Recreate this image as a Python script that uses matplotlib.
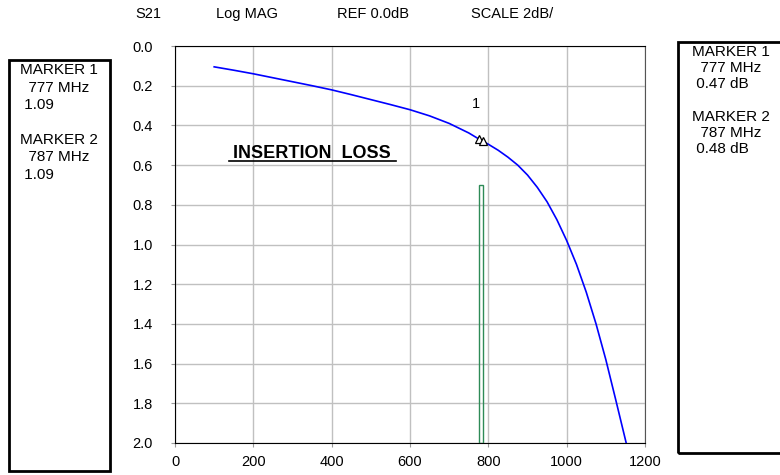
import matplotlib.pyplot as plt
from matplotlib.patches import Rectangle

plt.rcParams['font.family'] = ['Liberation Sans', 'DejaVu Sans']

# S21 insertion loss curve (MHz, dB)
freq = [100, 150, 200, 250, 300, 350, 400, 450, 500, 550, 600, 650, 700, 750, 777, 800,
        825, 850, 875, 900, 925, 950, 975, 1000, 1025, 1050, 1075, 1100, 1125, 1152]
loss = [0.105, 0.122, 0.14, 0.16, 0.18, 0.2, 0.221, 0.245, 0.27, 0.295, 0.321, 0.352, 0.39, 0.438, 0.47, 0.495,
        0.525, 0.56, 0.6, 0.65, 0.712, 0.785, 0.875, 0.98, 1.1, 1.24, 1.4, 1.58, 1.78, 2.0]

marker_f = [777, 787]
marker_db = [0.47, 0.48]
band_top = 0.7

header = ["S21", "Log MAG", "REF 0.0dB", "SCALE 2dB/"]
header_x = [148, 247, 373, 512]

left_lines = ["MARKER 1", "  777 MHz", " 1.09", "", "MARKER 2", "  787 MHz", " 1.09"]
right_lines = ["MARKER 1", "  777 MHz", " 0.47 dB", "", "MARKER 2", "  787 MHz", " 0.48 dB"]

W, H = 780, 475
fig = plt.figure(figsize=(7.8, 4.75), dpi=100)
ax = fig.add_axes([175 / W, 1 - 443 / H, 470 / W, 397 / H])

ax.plot(freq, loss, color='blue', lw=1.2, zorder=3)
# passband bar (outline only)
ax.add_patch(Rectangle((marker_f[0], band_top), marker_f[1] - marker_f[0], 2.0 - band_top,
                       fill=False, edgecolor='#2e8b57', lw=1.0, zorder=3))
ax.plot(marker_f, marker_db, linestyle='none', marker='^', markersize=6,
        markerfacecolor='white', markeredgecolor='black', markeredgewidth=0.9, zorder=4)
ax.text(769, 0.29, "1", fontsize=10.5, ha='center', va='center')
ax.text(350, 0.54, "INSERTION  LOSS", fontsize=13, fontweight='bold', ha='center', va='center')
ax.plot([138, 565], [0.58, 0.58], color='black', lw=1.2)

ax.set_xlim(0, 1200)
ax.set_ylim(2.0, 0.0)
ax.set_xticks(range(0, 1201, 200))
ax.set_yticks([i * 0.2 for i in range(11)])
ax.set_yticklabels(["%.1f" % (i * 0.2) for i in range(11)])
ax.grid(True, color='#c0c0c0', lw=1.0)
ax.tick_params(length=3, color='#999999', labelsize=10.5, pad=6)
ax.tick_params(axis='y', pad=13)
for s in ['left', 'top', 'bottom']:
    ax.spines[s].set_color('black')
ax.spines['right'].set_color('#555555')

for t, x in zip(header, header_x):
    fig.text(x / W, 1 - 14 / H, t, fontsize=10.5, ha='center', va='center')

# marker info boxes
fig.add_artist(Rectangle((9 / W, 1 - 471 / H), 101 / W, 411 / H, fill=False,
                         edgecolor='black', lw=2, transform=fig.transFigure))
fig.add_artist(Rectangle((678 / W, 1 - 453 / H), 130 / W, 411 / H, fill=False,
                         edgecolor='black', lw=2, transform=fig.transFigure))
for i, t in enumerate(left_lines):
    fig.text(20 / W, 1 - (70 + i * 17.5) / H, t, fontsize=11, va='center')
for i, t in enumerate(right_lines):
    fig.text(692 / W, 1 - (52 + i * 16.2) / H, t, fontsize=11, va='center')

fig.savefig("out.png", dpi=100)
